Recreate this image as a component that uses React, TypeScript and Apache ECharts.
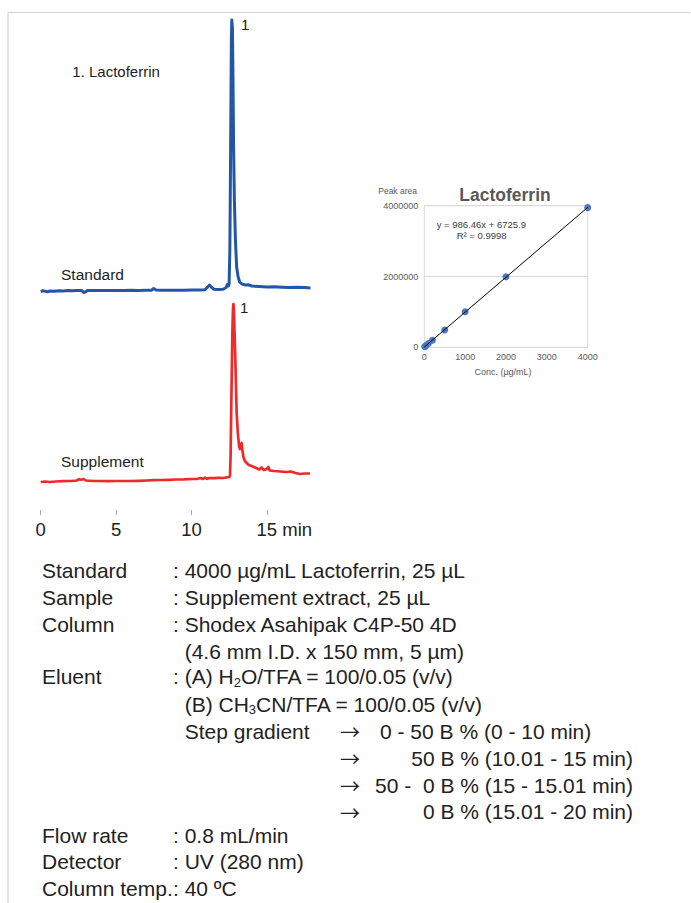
import React, { useEffect, useRef } from 'react';
import * as echarts from 'echarts';

// Standard chromatogram (time in min, detector response, arbitrary units)
const stdTime = [0.0, 0.15, 0.3, 0.45, 0.6, 0.9, 1.2, 1.5, 1.8, 2.1, 2.4, 2.7, 2.85, 2.95, 3.1, 3.5, 4.0, 4.5, 5.0, 5.5, 6.0, 6.5, 7.0, 7.35, 7.5, 7.65, 8.0, 8.5, 9.0, 9.5, 10.0, 10.5, 10.9, 11.1, 11.2, 11.35, 11.5, 11.8, 12.1, 12.3, 12.38, 12.45, 12.5, 12.55, 12.6, 12.65, 12.68, 12.72, 12.76, 12.8, 12.85, 12.92, 13.0, 13.1, 13.2, 13.35, 13.6, 13.8, 14.0, 14.5, 15.0, 15.5, 16.0, 16.5, 17.0, 17.5, 17.9];
const stdSignal = [-1.5, -0.8, -1.2, -1.8, -1.0, -1.3, -0.8, -1.0, -0.6, -0.8, -0.5, -0.4, -2.5, -2.0, -0.6, -0.6, -0.4, -0.5, -0.4, -0.5, -0.3, -0.4, -0.2, -0.2, 1.5, 0.0, -0.3, -0.2, -0.3, -0.2, -0.1, 0.0, 0.2, 3.5, 5.0, 2.5, 0.8, 0.5, 0.8, 2.5, 5.5, 4.0, 6.0, 40, 140, 250, 270, 262, 210, 140, 90, 50, 23, 13, 8, 6, 5, 5.2, 4, 3.5, 3, 3.2, 2.8, 2.5, 2.7, 2.4, 2.0];

// Supplement chromatogram
const supTime = [0.0, 0.3, 0.6, 1.0, 1.5, 2.0, 2.4, 2.55, 2.7, 2.85, 3.0, 3.5, 4.0, 4.5, 5.0, 5.5, 6.0, 6.5, 7.0, 7.5, 8.0, 8.5, 9.0, 9.5, 10.0, 10.4, 10.6, 10.75, 10.9, 11.05, 11.2, 11.5, 11.8, 12.1, 12.3, 12.5, 12.56, 12.6, 12.64, 12.68, 12.72, 12.76, 12.79, 12.82, 12.86, 12.9, 12.95, 13.0, 13.08, 13.16, 13.22, 13.28, 13.33, 13.38, 13.45, 13.55, 13.67, 13.8, 14.0, 14.3, 14.5, 14.65, 14.8, 15.0, 15.1, 15.2, 15.5, 15.9, 16.3, 16.6, 16.9, 17.2, 17.5, 17.87];
const supSignal = [-2, -1.5, -2, -1.5, -1.2, -1, -0.5, 0.8, 0.3, 1, -0.5, -1, -1, -1.2, -1, -1, -1, -0.8, -0.5, -0.2, 0, 0.2, 0.5, 0.6, 1, 1.2, 2, 1, 2.3, 1.2, 2, 1.8, 2.2, 2.0, 2.5, 3, 4, 25, 70, 110, 150, 172, 176, 170, 148, 128, 98, 67, 47, 34, 31, 35, 37, 30, 23, 19, 17, 15, 14, 12, 10.5, 12.5, 10, 11, 13, 9.5, 9, 8.5, 8, 8.5, 7, 6, 6.5, 6.5];

// Calibration curve
const calConc = [10, 25, 50, 100, 200, 500, 1000, 2000, 4000];
const calArea = [16000, 31000, 56000, 105000, 198000, 490000, 1005000, 1995000, 3945000];
const fitConc = [0, 4000];
const fitArea = [6725.9, 3952566];

const timeTicks = [0, 5, 10, 15];
const concTicks = [0, 1000, 2000, 3000, 4000];

const specText: [string, string][] = [
  ['Standard', ': 4000 µg/mL Lactoferrin, 25 µL'],
  ['Sample', ': Supplement extract, 25 µL'],
  ['Column', ': Shodex Asahipak C4P-50 4D'],
  ['', '(4.6 mm I.D. x 150 mm, 5 µm)'],
  ['Eluent', ': (A) H{s|2}O/TFA = 100/0.05 (v/v)'],
  ['', '(B) CH{s|3}CN/TFA = 100/0.05 (v/v)'],
  ['', 'Step gradient'],
  ['', ''],
  ['', ''],
  ['', ''],
  ['Flow rate', ': 0.8 mL/min'],
  ['Detector', ': UV (280 nm)'],
  ['Column temp.', ': 40 ºC'],
];
const gradientSteps = ['0 - 50 B % (0 - 10 min)', '50 B % (10.01 - 15 min)', '50 -  0 B % (15 - 15.01 min)', '0 B % (15.01 - 20 min)'];

const FONT = '"Liberation Sans", Arial, sans-serif';

export default function App() {
  const ref = useRef<HTMLDivElement>(null);
  useEffect(() => {
    if (!ref.current) return;
    const chart = echarts.init(ref.current, null, { renderer: 'svg' });

    const rowY = [570.7, 597.3, 624, 651, 676.7, 704, 731, 758.3, 785, 811.7, 835, 861.7, 888.3];
    const textStyleBase = { fontSize: 21, fontFamily: FONT, fill: '#222', verticalAlign: 'middle', lineHeight: 24 };
    const rich = { s: { fontSize: 13, fontFamily: FONT, verticalAlign: 'bottom', lineHeight: 10, fill: '#222', color: '#222' } };
    const graphics: any[] = [
      { type: 'line', shape: { x1: 8, y1: 12.5, x2: 690, y2: 12.5 }, style: { stroke: '#d2d2d2', lineWidth: 1.2 } },
      { type: 'line', shape: { x1: 8, y1: 12.5, x2: 8, y2: 903 }, style: { stroke: '#d2d2d2', lineWidth: 1.2 } },
      { type: 'text', x: 72.3, y: 71, style: { text: '1. Lactoferrin', fontSize: 15, fontFamily: FONT, fill: '#222', align: 'left', verticalAlign: 'middle' } },
      { type: 'text', x: 61, y: 274.5, style: { text: 'Standard', fontSize: 15.5, fontFamily: FONT, fill: '#222', align: 'left', verticalAlign: 'middle' } },
      { type: 'text', x: 61, y: 461.5, style: { text: 'Supplement', fontSize: 15.5, fontFamily: FONT, fill: '#222', align: 'left', verticalAlign: 'middle' } },
      { type: 'text', x: 241, y: 24, style: { text: '1', fontSize: 15, fontFamily: FONT, fill: '#222', align: 'left', verticalAlign: 'middle' } },
      { type: 'text', x: 240, y: 307, style: { text: '1', fontSize: 15, fontFamily: FONT, fill: '#222', align: 'left', verticalAlign: 'middle' } },
      { type: 'text', x: 417, y: 190.7, style: { text: 'Peak area', fontSize: 8.5, fontFamily: FONT, fill: '#595959', align: 'right', verticalAlign: 'middle' } },
      { type: 'text', x: 505, y: 195, style: { text: 'Lactoferrin', fontSize: 17.5, fontWeight: 'bold', fontFamily: FONT, fill: '#595959', align: 'center', verticalAlign: 'middle' } },
      { type: 'text', x: 436.7, y: 224.3, style: { text: 'y = 986.46x + 6725.9', fontSize: 9.5, fontFamily: FONT, fill: '#404040', align: 'left', verticalAlign: 'middle' } },
      { type: 'text', x: 456.7, y: 235.7, style: { text: 'R² = 0.9998', fontSize: 9.5, fontFamily: FONT, fill: '#404040', align: 'left', verticalAlign: 'middle' } },
      { type: 'text', x: 503, y: 371.7, style: { text: 'Conc. (µg/mL)', fontSize: 9, fontFamily: FONT, fill: '#595959', align: 'center', verticalAlign: 'middle' } },
    ];
    specText.forEach(([label, value], i) => {
      const y = rowY[i];
      if (label) graphics.push({ type: 'text', x: 42, y, style: { ...textStyleBase, text: label, align: 'left' } });
      if (value) {
        const x = value.startsWith(':') ? 173 : 184.7;
        graphics.push({ type: 'text', x, y, style: { ...textStyleBase, text: value, align: 'left', rich } });
      }
    });
    gradientSteps.forEach((s, i) => {
      const y = rowY[6 + i];
      graphics.push({ type: 'text', x: 340, y: y + 0.5, style: { ...textStyleBase, fontFamily: '"Noto Sans CJK JP", "DejaVu Sans", sans-serif', fontSize: 20, lineHeight: 20, fontWeight: 'normal', text: '→', align: 'left' } });
      if (i === 0) graphics.push({ type: 'text', x: 380, y, style: { ...textStyleBase, text: s, align: 'left' } });
      else graphics.push({ type: 'text', x: 633, y, style: { ...textStyleBase, text: s, align: 'right' } });
    });

    const option: any = {
      animation: false,
      textStyle: { fontFamily: FONT },
      grid: [
        { left: 40.7, top: 10, width: 271.3, height: 300 },
        { left: 40.7, top: 300, width: 271.3, height: 210 },
        { left: 424.3, top: 205.7, width: 163.4, height: 141.6, show: true, borderColor: '#d9d9d9', borderWidth: 1 },
      ],
      xAxis: [
        { gridIndex: 0, type: 'value', min: 0, max: 18, show: false },
        {
          gridIndex: 1, type: 'value', min: 0, max: 18,
          axisLine: { show: false, onZero: false },
          axisTick: { show: true, length: 5, lineStyle: { color: '#aaaaaa' }, customValues: timeTicks },
          axisLabel: {
            customValues: timeTicks, margin: 10, fontSize: 18.5, color: '#222', fontFamily: FONT,
            formatter: (v: number) => (v === 15 ? '{h|min }15 min' : String(v)),
            rich: { h: { color: 'rgba(0,0,0,0)', fontSize: 18.5, fontFamily: FONT } },
          },
          splitLine: { show: false },
        },
        {
          gridIndex: 2, type: 'value', min: 0, max: 4000, interval: 1000,
          axisLine: { show: false, onZero: false }, axisTick: { show: false },
          axisLabel: { customValues: concTicks, fontSize: 9, color: '#595959', margin: 5, formatter: (v: number) => String(v) },
          splitLine: { show: false },
        },
      ],
      yAxis: [
        { gridIndex: 0, type: 'value', min: -20, max: 280, show: false },
        { gridIndex: 1, type: 'value', min: -30, max: 180, show: false },
        {
          gridIndex: 2, type: 'value', min: 0, max: 4000000, interval: 2000000,
          axisLine: { show: false }, axisTick: { show: false },
          axisLabel: { fontSize: 9, color: '#595959', margin: 6, formatter: (v: number) => String(v) },
          splitLine: { show: true, lineStyle: { color: '#d9d9d9' } },
        },
      ],
      series: [
        {
          type: 'line', xAxisIndex: 0, yAxisIndex: 0, showSymbol: false, silent: true,
          data: stdTime.map((t, i) => [t, stdSignal[i]]),
          lineStyle: { color: '#2356a6', width: 3, join: 'round' },
        },
        {
          type: 'line', xAxisIndex: 1, yAxisIndex: 1, showSymbol: false, silent: true,
          data: supTime.map((t, i) => [t, supSignal[i]]),
          lineStyle: { color: '#ee2a2a', width: 2.7, join: 'round' },
        },
        {
          type: 'line', xAxisIndex: 2, yAxisIndex: 2, showSymbol: false, silent: true,
          data: fitConc.map((c, i) => [c, fitArea[i]]),
          lineStyle: { color: '#000', width: 1 },
        },
        {
          type: 'scatter', xAxisIndex: 2, yAxisIndex: 2, symbolSize: 7, silent: true,
          data: calConc.map((c, i) => [c, calArea[i]]),
          itemStyle: { color: '#4a78c2', opacity: 1 },
        },
      ],
      graphic: graphics,
    };
    chart.setOption(option);
    return () => chart.dispose();
  }, []);
  return <div ref={ref} style={{ position: 'absolute', left: 0, top: 0, width: 691, height: 903, background: '#fff' }} />;
}
